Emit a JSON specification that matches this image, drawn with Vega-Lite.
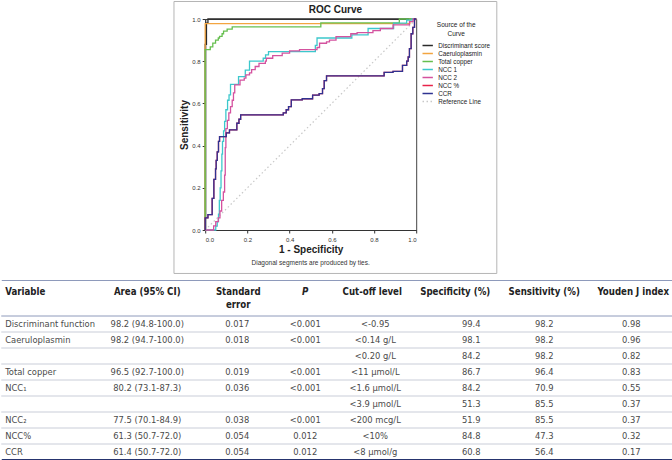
{
  "$schema": "https://vega.github.io/schema/vega-lite/v6.json",
  "padding": 0,
  "background": "white",
  "spacing": 5,
  "center": true,
  "resolve": {"scale": {"color": "independent", "strokeDash": "independent"}, "legend": {"color": "independent", "strokeDash": "independent"}},
  "config": {"view": {"stroke": null}, "font": "Liberation Sans"},
  "vconcat": [
    {
      "spacing": -6,
      "resolve": {"scale": {"color": "independent", "strokeDash": "independent"}, "legend": {"color": "independent", "strokeDash": "independent"}},
      "hconcat": [
        {"width": 1, "height": 1, "data": {"values": []}, "mark": {"type": "point", "opacity": 0}},
        {
          "title": {"text": "ROC Curve", "fontSize": 10, "fontWeight": "bold", "anchor": "middle", "offset": -15, "color": "#222"},
          "resolve": {"scale": {"color": "independent", "strokeDash": "independent"}, "legend": {"color": "independent", "strokeDash": "independent"}},
          "vconcat": [
            {
              "width": 211,
              "height": 211,
              "view": {"stroke": "#444", "strokeWidth": 1},
              "title": {"text": "Diagonal segments are produced by ties.", "orient": "bottom", "frame": "group", "anchor": "middle", "offset": -14, "fontSize": 6.5, "fontWeight": "normal", "color": "#333"},
              "data": {"values": [
                {"s":"Discriminant score","x":0,"y":0},{"s":"Discriminant score","x":0,"y":0.88},{"s":"Discriminant score","x":0.006,"y":0.98},{"s":"Discriminant score","x":0.013,"y":1},{"s":"Discriminant score","x":1,"y":1},
                {"s":"Caeruloplasmin","x":0,"y":0},{"s":"Caeruloplasmin","x":0,"y":0.978},{"s":"Caeruloplasmin","x":0.97,"y":1},{"s":"Caeruloplasmin","x":1,"y":1},
                {"s":"Total copper","x":0,"y":0},{"s":"Total copper","x":0,"y":0.855},{"s":"Total copper","x":0.024,"y":0.868},{"s":"Total copper","x":0.036,"y":0.886},{"s":"Total copper","x":0.049,"y":0.9},{"s":"Total copper","x":0.062,"y":0.91},{"s":"Total copper","x":0.068,"y":0.918},{"s":"Total copper","x":0.08,"y":0.93},{"s":"Total copper","x":0.087,"y":0.943},{"s":"Total copper","x":0.104,"y":0.952},{"s":"Total copper","x":0.128,"y":0.963},{"s":"Total copper","x":0.548,"y":0.982},{"s":"Total copper","x":0.92,"y":1},{"s":"Total copper","x":1,"y":1},
                {"s":"NCC 1","x":0,"y":0},{"s":"NCC 1","x":0.05,"y":0.018},{"s":"NCC 1","x":0.057,"y":0.04},{"s":"NCC 1","x":0.063,"y":0.075},{"s":"NCC 1","x":0.067,"y":0.14},{"s":"NCC 1","x":0.071,"y":0.2},{"s":"NCC 1","x":0.075,"y":0.28},{"s":"NCC 1","x":0.079,"y":0.36},{"s":"NCC 1","x":0.082,"y":0.42},{"s":"NCC 1","x":0.087,"y":0.47},{"s":"NCC 1","x":0.092,"y":0.515},{"s":"NCC 1","x":0.098,"y":0.57},{"s":"NCC 1","x":0.106,"y":0.615},{"s":"NCC 1","x":0.113,"y":0.64},{"s":"NCC 1","x":0.12,"y":0.69},{"s":"NCC 1","x":0.158,"y":0.727},{"s":"NCC 1","x":0.19,"y":0.758},{"s":"NCC 1","x":0.21,"y":0.8},{"s":"NCC 1","x":0.275,"y":0.814},{"s":"NCC 1","x":0.286,"y":0.83},{"s":"NCC 1","x":0.3,"y":0.845},{"s":"NCC 1","x":0.522,"y":0.875},{"s":"NCC 1","x":0.53,"y":0.91},{"s":"NCC 1","x":0.695,"y":0.925},{"s":"NCC 1","x":0.772,"y":0.955},{"s":"NCC 1","x":0.893,"y":0.98},{"s":"NCC 1","x":0.955,"y":0.995},{"s":"NCC 1","x":0.98,"y":1},{"s":"NCC 1","x":1,"y":1},
                {"s":"NCC 2","x":0,"y":0},{"s":"NCC 2","x":0.04,"y":0.02},{"s":"NCC 2","x":0.05,"y":0.04},{"s":"NCC 2","x":0.062,"y":0.057},{"s":"NCC 2","x":0.07,"y":0.09},{"s":"NCC 2","x":0.078,"y":0.14},{"s":"NCC 2","x":0.086,"y":0.18},{"s":"NCC 2","x":0.092,"y":0.26},{"s":"NCC 2","x":0.095,"y":0.39},{"s":"NCC 2","x":0.098,"y":0.48},{"s":"NCC 2","x":0.105,"y":0.52},{"s":"NCC 2","x":0.112,"y":0.555},{"s":"NCC 2","x":0.12,"y":0.585},{"s":"NCC 2","x":0.128,"y":0.615},{"s":"NCC 2","x":0.134,"y":0.65},{"s":"NCC 2","x":0.14,"y":0.688},{"s":"NCC 2","x":0.165,"y":0.71},{"s":"NCC 2","x":0.185,"y":0.72},{"s":"NCC 2","x":0.193,"y":0.735},{"s":"NCC 2","x":0.21,"y":0.745},{"s":"NCC 2","x":0.22,"y":0.76},{"s":"NCC 2","x":0.237,"y":0.775},{"s":"NCC 2","x":0.255,"y":0.79},{"s":"NCC 2","x":0.285,"y":0.8},{"s":"NCC 2","x":0.29,"y":0.814},{"s":"NCC 2","x":0.32,"y":0.826},{"s":"NCC 2","x":0.365,"y":0.838},{"s":"NCC 2","x":0.4,"y":0.849},{"s":"NCC 2","x":0.447,"y":0.855},{"s":"NCC 2","x":0.53,"y":0.865},{"s":"NCC 2","x":0.542,"y":0.885},{"s":"NCC 2","x":0.575,"y":0.892},{"s":"NCC 2","x":0.589,"y":0.9},{"s":"NCC 2","x":0.62,"y":0.916},{"s":"NCC 2","x":0.69,"y":0.93},{"s":"NCC 2","x":0.72,"y":0.935},{"s":"NCC 2","x":0.795,"y":0.945},{"s":"NCC 2","x":0.83,"y":0.955},{"s":"NCC 2","x":0.89,"y":0.972},{"s":"NCC 2","x":0.968,"y":0.988},{"s":"NCC 2","x":0.985,"y":1},{"s":"NCC 2","x":1,"y":1},
                {"s":"NCC %","x":0,"y":0},{"s":"NCC %","x":0,"y":0.057},{"s":"NCC %","x":0.013,"y":0.073},{"s":"NCC %","x":0.033,"y":0.15},{"s":"NCC %","x":0.041,"y":0.24},{"s":"NCC %","x":0.049,"y":0.29},{"s":"NCC %","x":0.052,"y":0.33},{"s":"NCC %","x":0.057,"y":0.37},{"s":"NCC %","x":0.063,"y":0.42},{"s":"NCC %","x":0.068,"y":0.443},{"s":"NCC %","x":0.1,"y":0.46},{"s":"NCC %","x":0.115,"y":0.475},{"s":"NCC %","x":0.15,"y":0.506},{"s":"NCC %","x":0.16,"y":0.525},{"s":"NCC %","x":0.168,"y":0.546},{"s":"NCC %","x":0.37,"y":0.555},{"s":"NCC %","x":0.384,"y":0.57},{"s":"NCC %","x":0.395,"y":0.585},{"s":"NCC %","x":0.408,"y":0.617},{"s":"NCC %","x":0.46,"y":0.622},{"s":"NCC %","x":0.509,"y":0.639},{"s":"NCC %","x":0.54,"y":0.646},{"s":"NCC %","x":0.556,"y":0.67},{"s":"NCC %","x":0.564,"y":0.708},{"s":"NCC %","x":0.575,"y":0.73},{"s":"NCC %","x":0.848,"y":0.747},{"s":"NCC %","x":0.89,"y":0.752},{"s":"NCC %","x":0.935,"y":0.78},{"s":"NCC %","x":0.955,"y":0.8},{"s":"NCC %","x":0.962,"y":0.82},{"s":"NCC %","x":0.968,"y":0.86},{"s":"NCC %","x":0.976,"y":0.93},{"s":"NCC %","x":0.984,"y":0.96},{"s":"NCC %","x":0.992,"y":1},{"s":"NCC %","x":1,"y":1},
                {"s":"CCR","x":0,"y":0},{"s":"CCR","x":0,"y":0.057},{"s":"CCR","x":0.013,"y":0.073},{"s":"CCR","x":0.033,"y":0.15},{"s":"CCR","x":0.041,"y":0.24},{"s":"CCR","x":0.049,"y":0.29},{"s":"CCR","x":0.052,"y":0.33},{"s":"CCR","x":0.057,"y":0.37},{"s":"CCR","x":0.063,"y":0.42},{"s":"CCR","x":0.068,"y":0.443},{"s":"CCR","x":0.1,"y":0.46},{"s":"CCR","x":0.115,"y":0.475},{"s":"CCR","x":0.15,"y":0.506},{"s":"CCR","x":0.16,"y":0.525},{"s":"CCR","x":0.168,"y":0.546},{"s":"CCR","x":0.37,"y":0.555},{"s":"CCR","x":0.384,"y":0.57},{"s":"CCR","x":0.395,"y":0.585},{"s":"CCR","x":0.408,"y":0.617},{"s":"CCR","x":0.46,"y":0.622},{"s":"CCR","x":0.509,"y":0.639},{"s":"CCR","x":0.54,"y":0.646},{"s":"CCR","x":0.556,"y":0.67},{"s":"CCR","x":0.564,"y":0.708},{"s":"CCR","x":0.575,"y":0.73},{"s":"CCR","x":0.848,"y":0.747},{"s":"CCR","x":0.89,"y":0.752},{"s":"CCR","x":0.935,"y":0.78},{"s":"CCR","x":0.955,"y":0.8},{"s":"CCR","x":0.962,"y":0.82},{"s":"CCR","x":0.968,"y":0.86},{"s":"CCR","x":0.976,"y":0.93},{"s":"CCR","x":0.984,"y":0.96},{"s":"CCR","x":0.992,"y":1},{"s":"CCR","x":1,"y":1},
                {"s":"Reference Line","x":0,"y":0},{"s":"Reference Line","x":1,"y":1}
              ]},
              "encoding": {
                "x": {"field": "x", "type": "quantitative", "scale": {"domain": [0, 1], "nice": false, "zero": false},
                  "axis": {"title": "1 - Specificity", "values": [0, 0.2, 0.4, 0.6, 0.8, 1], "format": ".1f", "grid": false, "labelFontSize": 6, "labelColor": "#333", "tickSize": 3, "tickColor": "#333", "domainColor": "#333", "labelPadding": 3, "titleFontSize": 10, "titleFontWeight": "bold", "titleColor": "#222", "titlePadding": 2}},
                "y": {"field": "y", "type": "quantitative", "scale": {"domain": [0, 1], "nice": false, "zero": false},
                  "axis": {"title": "Sensitivity", "values": [0, 0.2, 0.4, 0.6, 0.8, 1], "format": ".1f", "grid": false, "labelFontSize": 6, "labelColor": "#333", "tickSize": 3, "tickColor": "#333", "domainColor": "#333", "labelPadding": 2, "titleFontSize": 10, "titleFontWeight": "bold", "titleColor": "#222", "titlePadding": 2}},
                "color": {"field": "s", "type": "nominal",
                  "scale": {"domain": ["Discriminant score", "Caeruloplasmin", "Total copper", "NCC 1", "NCC 2", "NCC %", "CCR", "Reference Line"],
                            "range": ["#2a2a2a", "#f3a540", "#66bf4f", "#3cc8cc", "#d4529f", "#e8234a", "#2f3391", "#c8c8c8"]},
                  "legend": {"orient": "none", "legendX": 218, "legendY": 3, "title": ["Source of the", "Curve"], "titleFontSize": 6.5, "titleFontWeight": "normal", "titleColor": "#222", "titleAnchor": "middle", "titleAlign": "center", "titlePadding": 4, "labelFontSize": 6.3, "labelColor": "#222", "symbolType": "M-1.4,0H1.4", "symbolSize": 55, "symbolStrokeWidth": 1.5, "rowPadding": 0, "labelOffset": 6, "padding": 0}},
                "strokeDash": {"field": "s", "type": "nominal",
                  "scale": {"domain": ["Discriminant score", "Caeruloplasmin", "Total copper", "NCC 1", "NCC 2", "NCC %", "CCR", "Reference Line"],
                            "range": [[1, 0], [1, 0], [1, 0], [1, 0], [1, 0], [1, 0], [1, 0], [1.5, 2.5]]},
                  "legend": {"orient": "none", "legendX": 218, "legendY": 3, "title": ["Source of the", "Curve"], "titleFontSize": 6.5, "titleFontWeight": "normal", "titleColor": "#222", "titleAnchor": "middle", "titleAlign": "center", "titlePadding": 4, "labelFontSize": 6.3, "labelColor": "#222", "symbolType": "M-1.4,0H1.4", "symbolSize": 55, "symbolStrokeWidth": 1.5, "rowPadding": 0, "labelOffset": 6, "padding": 0}}
              },
              "layer": [
                {
                  "transform": [{"filter": "datum.s == 'Reference Line' && datum.x == 0"}],
                  "mark": {"type": "rect", "filled": false, "strokeWidth": 1},
                  "encoding": {
                    "x": {"datum": -0.148, "type": "quantitative"},
                    "x2": {"datum": 1.382},
                    "y": {"datum": 1.083, "type": "quantitative"},
                    "y2": {"datum": -0.206},
                    "color": {"value": "#b5b5b5"},
                    "strokeDash": {"value": [1, 0]}
                  }
                },
                {
                  "transform": [{"filter": "datum.s == 'Reference Line'"}],
                  "mark": {"type": "line", "strokeWidth": 1.2, "interpolate": "linear"}
                },
                {
                  "transform": [{"filter": "datum.s != 'Reference Line'"}],
                  "mark": {"type": "line", "strokeWidth": 1.3, "interpolate": "step-after"}
                }
              ]
            }
          ]
        }
      ]
    },
    {
      "spacing": 0,
      "vconcat": [
        {
          "width": 672,
          "height": 35,
          "data": {"values": [
            {"c": 0, "t": "Variable"}, {"c": 1, "t": "Area (95% CI)"}, {"c": 2, "t": "Standard\nerror"}, {"c": 3, "t": "P"},
            {"c": 4, "t": "Cut-off level"}, {"c": 5, "t": "Specificity (%)"}, {"c": 6, "t": "Sensitivity (%)"}, {"c": 7, "t": "Youden J index"}
          ]},
          "encoding": {
            "x": {"field": "c", "type": "quantitative",
              "scale": {"domain": [0, 1, 2, 3, 4, 5, 6, 7, 8], "range": [0, 146, 237, 304, 371, 454, 543, 632, 672], "nice": false, "zero": false},
              "axis": {"orient": "top", "title": null, "labels": false, "ticks": false, "grid": false, "domain": true, "domainColor": "#8e9abb", "domainWidth": 1}},
            "text": {"field": "t"}
          },
          "layer": [
            {"transform": [{"filter": "datum.c == 0"}],
             "mark": {"type": "text", "align": "left", "baseline": "top", "dx": 4, "dy": -11, "fontSize": 9.6, "fontWeight": "bold", "color": "#222", "font": "DejaVu Sans Condensed"}},
            {"transform": [{"filter": "datum.c > 0 && datum.c != 3"}],
             "mark": {"type": "text", "align": "center", "baseline": "top", "dy": -11, "fontSize": 9.6, "fontWeight": "bold", "color": "#222", "font": "DejaVu Sans Condensed", "lineBreak": "\n", "lineHeight": 13}},
            {"transform": [{"filter": "datum.c == 3"}],
             "mark": {"type": "text", "align": "center", "baseline": "top", "dy": -11, "fontSize": 9.6, "fontWeight": "bold", "fontStyle": "italic", "color": "#222", "font": "DejaVu Sans Condensed"}}
          ]
        },
        {
          "width": 672,
          "height": 144,
          "data": {"values": [
            {"r":1,"c":0,"t":"Discriminant function"},{"r":1,"c":1,"t":"98.2 (94.8-100.0)"},{"r":1,"c":2,"t":"0.017"},{"r":1,"c":3,"t":"<0.001"},{"r":1,"c":4,"t":"<-0.95"},{"r":1,"c":5,"t":"99.4"},{"r":1,"c":6,"t":"98.2"},{"r":1,"c":7,"t":"0.98"},
            {"r":2,"c":0,"t":"Caeruloplasmin"},{"r":2,"c":1,"t":"98.2 (94.7-100.0)"},{"r":2,"c":2,"t":"0.018"},{"r":2,"c":3,"t":"<0.001"},{"r":2,"c":4,"t":"<0.14 g/L"},{"r":2,"c":5,"t":"98.1"},{"r":2,"c":6,"t":"98.2"},{"r":2,"c":7,"t":"0.96"},
            {"r":3,"c":0,"t":""},{"r":3,"c":4,"t":"<0.20 g/L"},{"r":3,"c":5,"t":"84.2"},{"r":3,"c":6,"t":"98.2"},{"r":3,"c":7,"t":"0.82"},
            {"r":4,"c":0,"t":"Total copper"},{"r":4,"c":1,"t":"96.5 (92.7-100.0)"},{"r":4,"c":2,"t":"0.019"},{"r":4,"c":3,"t":"<0.001"},{"r":4,"c":4,"t":"<11 µmol/L"},{"r":4,"c":5,"t":"86.7"},{"r":4,"c":6,"t":"96.4"},{"r":4,"c":7,"t":"0.83"},
            {"r":5,"c":0,"t":"NCC₁"},{"r":5,"c":1,"t":"80.2 (73.1-87.3)"},{"r":5,"c":2,"t":"0.036"},{"r":5,"c":3,"t":"<0.001"},{"r":5,"c":4,"t":"<1.6 µmol/L"},{"r":5,"c":5,"t":"84.2"},{"r":5,"c":6,"t":"70.9"},{"r":5,"c":7,"t":"0.55"},
            {"r":6,"c":0,"t":""},{"r":6,"c":4,"t":"<3.9 µmol/L"},{"r":6,"c":5,"t":"51.3"},{"r":6,"c":6,"t":"85.5"},{"r":6,"c":7,"t":"0.37"},
            {"r":7,"c":0,"t":"NCC₂"},{"r":7,"c":1,"t":"77.5 (70.1-84.9)"},{"r":7,"c":2,"t":"0.038"},{"r":7,"c":3,"t":"<0.001"},{"r":7,"c":4,"t":"<200 mcg/L"},{"r":7,"c":5,"t":"51.9"},{"r":7,"c":6,"t":"85.5"},{"r":7,"c":7,"t":"0.37"},
            {"r":8,"c":0,"t":"NCC%"},{"r":8,"c":1,"t":"61.3 (50.7-72.0)"},{"r":8,"c":2,"t":"0.054"},{"r":8,"c":3,"t":"0.012"},{"r":8,"c":4,"t":"<10%"},{"r":8,"c":5,"t":"84.8"},{"r":8,"c":6,"t":"47.3"},{"r":8,"c":7,"t":"0.32"},
            {"r":9,"c":0,"t":"CCR"},{"r":9,"c":1,"t":"61.4 (50.7-72.0)"},{"r":9,"c":2,"t":"0.054"},{"r":9,"c":3,"t":"0.012"},{"r":9,"c":4,"t":"<8 µmol/g"},{"r":9,"c":5,"t":"60.8"},{"r":9,"c":6,"t":"56.4"},{"r":9,"c":7,"t":"0.17"}
          ]},
          "encoding": {
            "y": {"field": "r", "type": "ordinal", "scale": {"paddingInner": 0, "paddingOuter": 0}, "axis": null}
          },
          "layer": [
            {"transform": [{"filter": "datum.c == 0 && datum.r > 1"}],
             "mark": {"type": "rule", "color": "#c9cdd8", "strokeWidth": 1},
             "encoding": {"y": {"field": "r", "type": "ordinal", "bandPosition": 0}}},
            {"transform": [{"filter": "datum.c == 0 && datum.r == 1"}],
             "mark": {"type": "rule", "color": "#8e9abb", "strokeWidth": 1},
             "encoding": {"y": {"field": "r", "type": "ordinal", "bandPosition": 0}}},
            {"transform": [{"filter": "datum.c == 0"}],
             "mark": {"type": "text", "align": "left", "baseline": "middle", "dx": 4, "fontSize": 9.3, "color": "#4a4a4a", "font": "DejaVu Sans Condensed"},
             "encoding": {
               "x": {"field": "c", "type": "quantitative",
                 "scale": {"domain": [0, 1, 2, 3, 4, 5, 6, 7, 8], "range": [0, 146, 236, 304, 374, 470, 543, 630, 672], "nice": false, "zero": false},
                 "axis": {"orient": "bottom", "title": null, "labels": false, "ticks": false, "grid": false, "domain": true, "domainColor": "#26346e", "domainWidth": 3}},
               "text": {"field": "t"}}},
            {"transform": [{"filter": "datum.c > 0"}],
             "mark": {"type": "text", "align": "center", "baseline": "middle", "fontSize": 9.3, "color": "#4a4a4a", "font": "DejaVu Sans Condensed"},
             "encoding": {
               "x": {"field": "c", "type": "quantitative"},
               "text": {"field": "t"}}}
          ]
        }
      ]
    }
  ]
}
